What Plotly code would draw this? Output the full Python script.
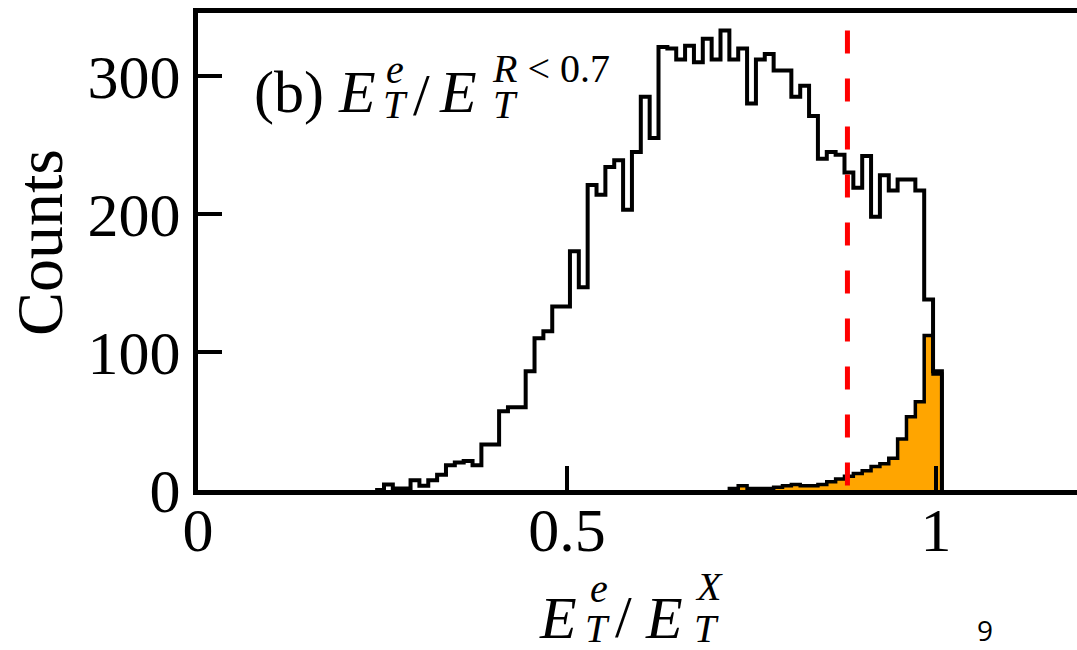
import numpy as np
import plotly.graph_objects as go

# Histogram binning: fixed-width bins on a grid starting at 0
bin_width = 0.012
first_bin_all = 20
counts_all = [0, 4, 1, 1, 7, 3, 7, 11, 18, 20, 21, 18, 33, 33, 57, 60, 60, 86,
              110, 115, 133, 133, 173, 147, 221, 214, 234, 239, 203, 245, 285,
              255, 321, 320, 312, 322, 310, 327, 312, 333, 312, 320, 280, 312,
              316, 304, 304, 285, 293, 271, 240, 245, 243, 230, 219, 242, 198,
              228, 217, 225, 225, 217, 138, 86]

first_bin_sel = 60
counts_sel = [1, 3, 1, 1, 1, 2, 3, 4, 3, 3, 4, 6, 8, 10, 12, 14, 17, 19, 23,
              37, 53, 64, 112, 84]

cut_value = 0.88
cut_top = 333

x_ticks = [0, 0.5, 1]
x_tick_text = ["0", "0.5", "1"]
y_ticks = [0, 100, 200, 300]
y_tick_text = ["0", "100", "200", "300"]

W, H = 1077, 650
M_L, M_R, M_T, M_B = 198, 0, 13, 160
PW, PH = W - M_L - M_R, H - M_T - M_B

SERIF = "Liberation Serif"


def step_xy(first, counts):
    edges = (first + np.arange(len(counts) + 1)) * bin_width
    x = np.concatenate([[edges[0]], edges])
    y = np.concatenate([[0], counts, [0]])
    return x, y


fig = go.Figure()

xs, ys = step_xy(first_bin_sel, counts_sel)
fig.add_trace(go.Scatter(x=xs, y=ys, mode="lines", line_shape="hv",
                         line=dict(color="black", width=3.5),
                         fill="tozeroy", fillcolor="#FFA500",
                         hoverinfo="skip", showlegend=False))

xa, ya = step_xy(first_bin_all, counts_all)
fig.add_trace(go.Scatter(x=xa, y=ya, mode="lines", line_shape="hv",
                         line=dict(color="black", width=4),
                         hoverinfo="skip", showlegend=False))

fig.add_shape(type="line", xref="x", yref="y",
              x0=cut_value, x1=cut_value, y0=cut_top, y1=0,
              line=dict(color="#FF0000", width=5, dash="23px,25px"))


def px_x(px):
    return (px - M_L) / PW


def px_y(py):
    return (M_T + PH - py) / PH


def label(text, left, mid, size):
    fig.add_annotation(text=text, x=px_x(left), y=px_y(mid),
                       xref="paper", yref="paper", xanchor="left",
                       yanchor="middle", showarrow=False,
                       font=dict(family=SERIF, size=size, color="black"))


# panel label (b) E_T^e / E_T^{R<0.7}
label("(b) <i>E</i>", 252, 92, 60)
label("<i>e</i>", 384, 70, 40)
label("<i>T</i>", 381, 104, 40)
label("/", 411, 95, 60)
label("<i>E</i>", 437, 92, 60)
label("<i>T</i>", 491, 104, 40)
label("<i>R</i> &lt; 0.7", 490, 68, 40)

# x-axis title E_T^e / E_T^X
label("<i>E</i>", 537, 618, 60)
label("<i>e</i>", 588, 588, 40)
label("<i>T</i>", 583, 628, 40)
label("/", 613, 617, 60)
label("<i>E</i>", 643, 618, 60)
label("<i>X</i>", 693, 586, 40)
label("<i>T</i>", 692, 628, 40)

# y-axis title
fig.add_annotation(text="Counts", x=px_x(40), y=px_y(243), xref="paper",
                   yref="paper", xanchor="center", yanchor="middle",
                   textangle=-90, showarrow=False,
                   font=dict(family=SERIF, size=66, color="black"))

# page number
fig.add_annotation(text="9", x=px_x(985), y=px_y(630), xref="paper",
                   yref="paper", xanchor="center", yanchor="middle",
                   showarrow=False,
                   font=dict(family="Open Sans", size=28, color="black"))

fig.update_layout(
    width=W, height=H, autosize=False,
    margin=dict(l=M_L, r=M_R, t=M_T, b=M_B, pad=0),
    paper_bgcolor="white", plot_bgcolor="white",
    showlegend=False,
    xaxis=dict(range=[0, PW / 738.0], tickmode="array", tickvals=x_ticks,
               ticktext=x_tick_text, ticks="inside", ticklen=24,
               tickwidth=4, tickcolor="black", showline=True, linewidth=5,
               linecolor="black", mirror=True, showgrid=False,
               zeroline=False, ticklabelstandoff=-18,
               tickfont=dict(family=SERIF, size=62, color="black")),
    yaxis=dict(range=[0, PH / 1.38], tickmode="array", tickvals=y_ticks,
               ticktext=y_tick_text, ticks="inside", ticklen=24,
               tickwidth=4, tickcolor="black", showline=True, linewidth=5,
               linecolor="black", showgrid=False, zeroline=False,
               tickfont=dict(family=SERIF, size=62, color="black")),
)

fig.write_html("out.html")
